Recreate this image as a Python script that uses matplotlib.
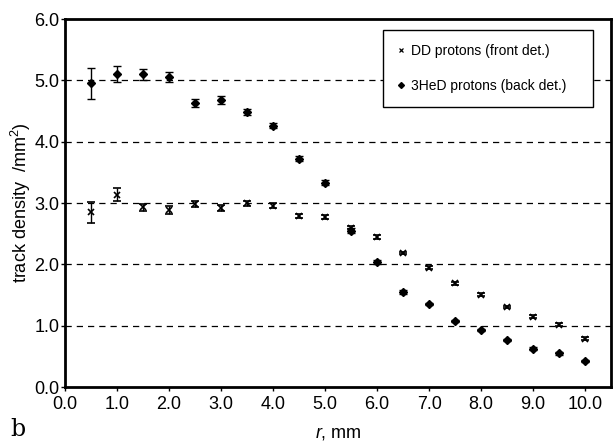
import matplotlib
matplotlib.use("Agg")
import matplotlib.pyplot as plt
from matplotlib.lines import Line2D
import numpy as np

plt.rcParams["font.family"] = ["Liberation Sans", "DejaVu Sans"]
plt.rcParams["mathtext.fontset"] = "custom"
plt.rcParams["mathtext.rm"] = "Liberation Sans"
plt.rcParams["mathtext.it"] = "Liberation Sans:italic"

r = [0.5, 1.0, 1.5, 2.0, 2.5, 3.0, 3.5, 4.0, 4.5, 5.0,
     5.5, 6.0, 6.5, 7.0, 7.5, 8.0, 8.5, 9.0, 9.5, 10.0]

dd = [2.85, 3.14, 2.93, 2.89, 2.98, 2.92, 3.0, 2.96, 2.79, 2.77,
      2.6, 2.45, 2.19, 1.95, 1.69, 1.51, 1.31, 1.15, 1.02, 0.79]
dd_err = [0.17, 0.1, 0.06, 0.06, 0.05, 0.05, 0.04, 0.04, 0.03, 0.03,
          0.03, 0.03, 0.02, 0.02, 0.02, 0.02, 0.02, 0.02, 0.02, 0.02]

hed = [4.95, 5.1, 5.1, 5.05, 4.63, 4.68, 4.49, 4.26, 3.72, 3.33,
       2.55, 2.04, 1.55, 1.36, 1.08, 0.93, 0.77, 0.63, 0.55, 0.43]
hed_err = [0.25, 0.13, 0.09, 0.08, 0.07, 0.06, 0.05, 0.04, 0.04, 0.04,
           0.04, 0.03, 0.03, 0.02, 0.02, 0.02, 0.02, 0.02, 0.02, 0.02]

labels = ["DD protons (front det.)", "3HeD protons (back det.)"]

fig = plt.figure(figsize=(6.13, 4.43), dpi=100)
ax = fig.add_axes([0.106, 0.126, 0.891, 0.831])

for y in [1, 2, 3, 4, 5]:
    ax.axhline(y, color="black", lw=0.9, ls=(0, (5, 4)), zorder=1)

ax.errorbar(r, dd, yerr=dd_err, fmt="x", color="black", ms=4, mew=1.2,
            elinewidth=1, capsize=3, capthick=1, zorder=3)
ax.errorbar(r, hed, yerr=hed_err, fmt="D", color="black", ms=4,
            elinewidth=1, capsize=3, capthick=1, zorder=3)

ax.set_xlim(0, 10.5)
ax.set_ylim(0, 6)
ax.set_xticks(np.arange(0, 11, 1.0))
ax.set_xticklabels([f"{v:.1f}" for v in np.arange(0, 11, 1.0)])
ax.set_yticks(np.arange(0, 7, 1.0))
ax.set_yticklabels([f"{v:.1f}" for v in np.arange(0, 7, 1.0)])
ax.tick_params(labelsize=13, direction="out", length=3, width=1, pad=1)
ax.tick_params(axis="x", pad=3)

for side in ["left", "bottom", "right", "top"]:
    ax.spines[side].set_linewidth(2)

ax.set_ylabel("track density  /mm$^{2}$)", fontsize=13, labelpad=1)
ax.set_xlabel("$\\it{r}$, mm", fontsize=13, labelpad=9)
fig.text(0.017, 0.015, "b", fontsize=17, family="DejaVu Serif")

handles = [Line2D([], [], ls="none", marker="x", ms=3.5, mew=0.9, color="black"),
           Line2D([], [], ls="none", marker="D", ms=3, color="black")]
leg = ax.legend(handles, labels, loc="upper left",
                bbox_to_anchor=(0.582, 0.0, 0.385, 0.970), mode="expand",
                borderaxespad=0, fontsize=10, frameon=True, fancybox=False,
                edgecolor="black", handlelength=0.6, handletextpad=0.4,
                labelspacing=1.5, borderpad=1.0)
leg.get_frame().set_linewidth(1)
leg.get_frame().set_alpha(1)

fig.savefig("out.png", dpi=100)
